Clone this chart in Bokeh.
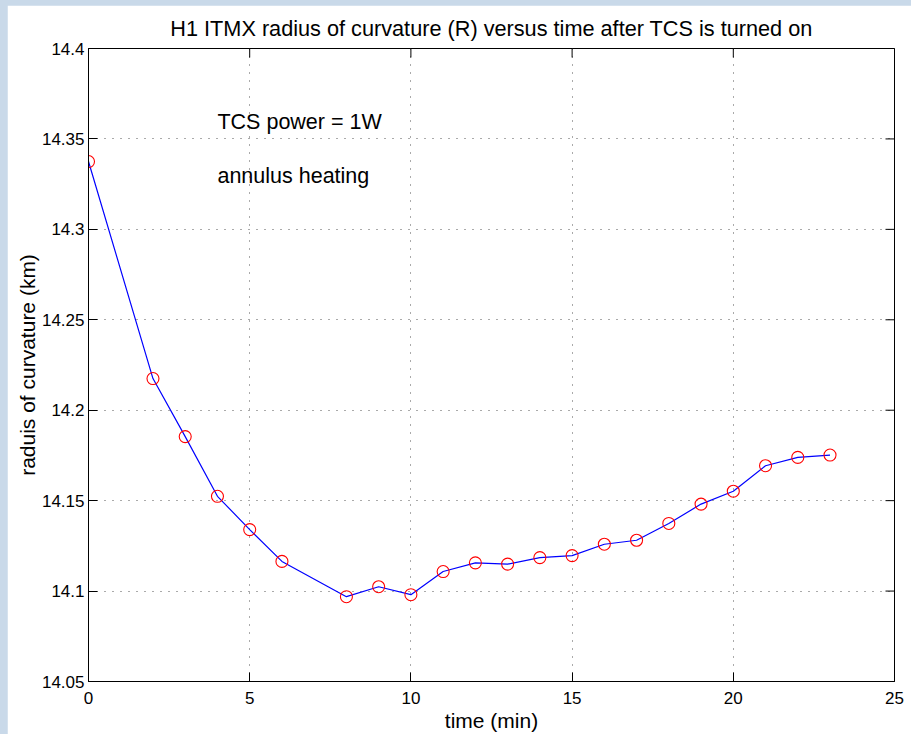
import math
from bokeh.plotting import figure
from bokeh.models import Range1d, FixedTicker, Label, ColumnDataSource, Spacer
from bokeh.layouts import column, row
from bokeh.embed import file_html
from bokeh.resources import INLINE

# ---- data ----
time_min = [0, 2, 3, 4, 5, 6, 8, 9, 10, 11, 12, 13, 14, 15, 16, 17, 18, 19, 20, 21, 22, 23]
radius_km = [14.3375, 14.2175, 14.1854, 14.1524, 14.1340, 14.1164, 14.0969, 14.1024,
             14.0980, 14.1108, 14.1156, 14.1149, 14.1185, 14.1196, 14.1259, 14.1281,
             14.1374, 14.1481, 14.1552, 14.1693, 14.1739, 14.1752]
x_ticks = [0, 5, 10, 15, 20, 25]
y_ticks = [14.05, 14.1, 14.15, 14.2, 14.25, 14.3, 14.35, 14.4]
y_tick_labels = ["14.05", "14.1", "14.15", "14.2", "14.25", "14.3", "14.35", "14.4"]
title_text = "H1 ITMX radius of curvature (R) versus time after TCS is turned on"
x_label = "time (min)"
y_label = "raduis of curvature (km)"
notes = ["TCS power = 1W", "annulus heating"]

X_MIN, X_MAX = 0, 25
Y_MIN, Y_MAX = 14.05, 14.4

FONT = "Liberation Sans"
TICK_FS = "17px"
LABEL_FS = "21px"

src = ColumnDataSource(data=dict(t=time_min, r=radius_km))

p = figure(width=904, height=729, output_backend="svg", toolbar_location=None,
           x_range=Range1d(X_MIN, X_MAX), y_range=Range1d(Y_MIN, Y_MAX),
           min_border_left=81, min_border_right=17, min_border_top=42, min_border_bottom=50,
           background_fill_color="white", border_fill_color="white",
           outline_line_color="black", outline_line_width=1)

p.title.text = title_text
p.title.align = "center"
p.title.text_font = FONT
p.title.text_font_size = "21.7px"
p.title.text_font_style = "normal"
p.title.text_color = "black"
p.title.standoff = 16

# grid
for g in (p.xgrid, p.ygrid):
    g.grid_line_color = "#555555"
    g.grid_line_dash = "1 7"
    g.grid_line_width = 1
p.xgrid.ticker = FixedTicker(ticks=x_ticks)
p.ygrid.ticker = FixedTicker(ticks=y_ticks)

xa = p.xaxis[0]
ya = p.yaxis[0]
xa.ticker = FixedTicker(ticks=x_ticks)
ya.ticker = FixedTicker(ticks=y_ticks)
ya.major_label_overrides = {v: s for v, s in zip(y_ticks, y_tick_labels)}
for ax in (xa, ya):
    ax.axis_line_color = "black"
    ax.axis_line_width = 1
    ax.major_tick_in = 9
    ax.major_tick_out = 0
    ax.major_tick_line_color = "black"
    ax.minor_tick_line_color = None
    ax.major_label_text_font = FONT
    ax.major_label_text_font_size = TICK_FS
    ax.major_label_text_color = "black"
    ax.axis_label_text_font = FONT
    ax.axis_label_text_font_size = LABEL_FS
    ax.axis_label_text_font_style = "normal"
    ax.axis_label_text_color = "black"
xa.major_label_standoff = 10
ya.major_label_standoff = 4
xa.axis_label = x_label
ya.axis_label = y_label
xa.axis_label_standoff = 2
ya.axis_label_standoff = 0

# inward ticks on the top and right edges (half of each dash is clipped by the frame)
p.scatter(x=x_ticks, y=[Y_MAX] * len(x_ticks), marker="dash", size=18, angle=math.pi / 2,
          line_color="black", line_width=1)
p.scatter(x=[X_MAX] * len(y_ticks), y=y_ticks, marker="dash", size=18, angle=0,
          line_color="black", line_width=1)

# series
p.line("t", "r", source=src, line_color="#0000ff", line_width=1.2)
p.scatter("t", "r", source=src, marker="circle", size=12, fill_color=None,
          line_color="#ff0000", line_width=1.1)

# annotations
p.add_layout(Label(x=4, y=14.3591, text=notes[0], text_font=FONT, text_font_size="21.5px",
                   text_color="black", text_baseline="alphabetic"))
p.add_layout(Label(x=4, y=14.3296, text=notes[1], text_font=FONT, text_font_size="21.5px",
                   text_color="black", text_baseline="alphabetic"))

layout = column(Spacer(width=911, height=5),
                row(Spacer(width=7, height=729), p),
                styles={"background-color": "#c9d9e9"})

open("out.html", "w").write(file_html(layout, INLINE))
